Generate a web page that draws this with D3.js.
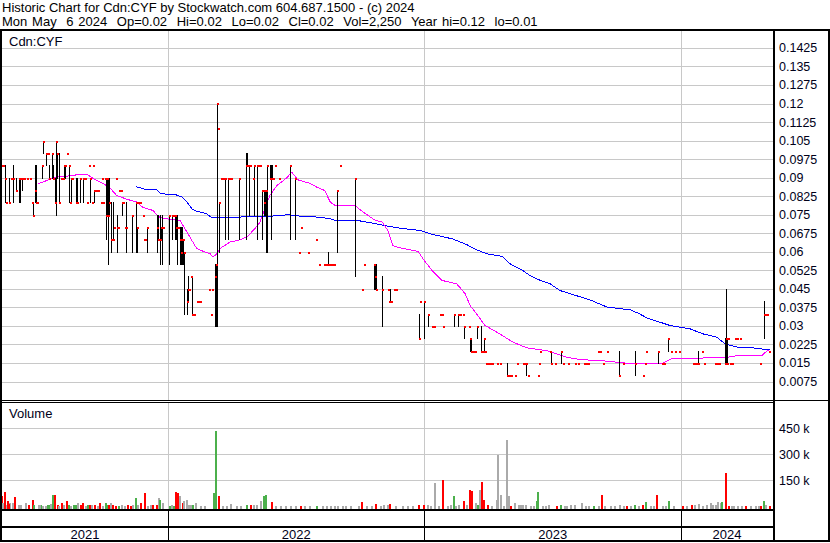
<!DOCTYPE html>
<html><head><meta charset="utf-8">
<script src="https://cdn.jsdelivr.net/npm/d3@7"></script>
<style>
body{margin:0;background:#fff}
svg{display:block}
text{font-family:"Liberation Sans",Arial,sans-serif}
</style>
</head><body>
<svg id="c" width="830" height="543"></svg>
<script>
// ---------------- DATA ----------------
const headerLine1 = "Historic Chart for Cdn:CYF by Stockwatch.com 604.687.1500 - (c) 2024";
const headerLine2 = "Mon May  6 2024  Op=0.02  Hi=0.02  Lo=0.02  Cl=0.02  Vol=2,250  Year hi=0.12  lo=0.01";
const symbolLabel = "Cdn:CYF";
const volumeLabel = "Volume";

const priceTicks = [0.0075,0.015,0.0225,0.03,0.0375,0.045,0.0525,0.06,0.0675,0.075,0.0825,0.09,0.0975,0.105,0.1125,0.12,0.1275,0.135,0.1425];
const priceTickLabels = ["0.0075","0.015","0.0225","0.03","0.0375","0.045","0.0525","0.06","0.0675","0.075","0.0825","0.09","0.0975","0.105","0.1125","0.12","0.1275","0.135","0.1425"];
const volumeTicks = [150000,300000,450000];
const volumeTickLabels = ["150 k","300 k","450 k"];
const yearLabels = ["2021","2022","2023","2024"];
const yearStarts = ["2022-01-01","2023-01-01","2024-01-01"];
const chartStart = "2021-05-07", chartEnd = "2024-05-11";

const priceDates = [
"2021-05-08","2021-05-11","2021-05-14","2021-05-15","2021-05-20","2021-05-23","2021-05-25","2021-05-30","2021-06-03","2021-06-04",
"2021-06-07","2021-06-10","2021-06-14","2021-06-19","2021-06-21","2021-06-23","2021-06-26","2021-06-27","2021-06-29","2021-07-06",
"2021-07-07","2021-07-11","2021-07-14","2021-07-16","2021-07-20","2021-07-21","2021-07-24","2021-07-26","2021-07-27","2021-07-30",
"2021-08-02","2021-08-05","2021-08-06","2021-08-07","2021-08-10","2021-08-13","2021-08-15","2021-08-16","2021-08-17","2021-08-23",
"2021-08-25","2021-08-29","2021-09-02","2021-09-05","2021-09-08","2021-09-11","2021-09-12","2021-09-15","2021-09-16","2021-09-18",
"2021-09-21","2021-09-24","2021-09-28","2021-09-29","2021-10-01","2021-10-03","2021-10-05","2021-10-06","2021-10-08","2021-10-09",
"2021-10-12","2021-10-15","2021-10-16","2021-10-19","2021-10-20","2021-10-22","2021-10-23","2021-10-26","2021-10-28","2021-10-29",
"2021-11-01","2021-11-02","2021-11-11","2021-11-16","2021-11-18","2021-11-19","2021-11-22","2021-11-26","2021-11-28","2021-11-29",
"2021-12-02","2021-12-16","2021-12-18","2021-12-21","2021-12-22","2021-12-24","2021-12-25","2022-01-02","2022-01-07","2022-01-08",
"2022-01-11","2022-01-13","2022-01-14","2022-01-15","2022-01-18","2022-01-20","2022-01-21","2022-01-22","2022-01-24","2022-01-28",
"2022-01-30","2022-01-31","2022-02-03","2022-02-04","2022-02-06","2022-02-07","2022-02-11","2022-02-14","2022-02-16","2022-02-28",
"2022-03-03","2022-03-05","2022-03-09","2022-03-10","2022-03-12","2022-03-13","2022-03-15","2022-03-18","2022-03-21","2022-03-23",
"2022-03-28","2022-03-29","2022-04-01","2022-04-12","2022-04-22","2022-04-24","2022-04-25","2022-04-26","2022-04-28","2022-05-02",
"2022-05-04","2022-05-08","2022-05-09","2022-05-12","2022-05-15","2022-05-16","2022-05-18","2022-05-19","2022-05-21","2022-05-22",
"2022-05-26","2022-05-28","2022-05-29","2022-05-31","2022-06-02","2022-06-08","2022-06-24","2022-07-01","2022-07-07","2022-07-09",
"2022-07-19","2022-07-31","2022-08-04","2022-08-11","2022-08-14","2022-08-17","2022-08-20","2022-08-23","2022-08-25","2022-08-30",
"2022-09-03","2022-09-24","2022-10-04","2022-10-07","2022-10-21","2022-10-23","2022-10-24","2022-11-02","2022-11-10","2022-11-12",
"2022-11-13","2022-11-14","2022-11-19","2022-11-22","2022-12-24","2022-12-26","2023-01-01","2023-01-06","2023-01-12","2023-01-15",
"2023-01-23","2023-01-26","2023-01-27","2023-02-12","2023-02-18","2023-02-21","2023-02-25","2023-02-26","2023-03-05","2023-03-07",
"2023-03-08","2023-03-11","2023-03-14","2023-03-17","2023-03-23","2023-03-25","2023-03-27","2023-03-28","2023-03-30","2023-04-02",
"2023-04-04","2023-04-07","2023-04-14","2023-04-18","2023-04-28","2023-05-01","2023-05-04","2023-05-10","2023-05-13","2023-05-21",
"2023-05-24","2023-05-26","2023-05-28","2023-06-12","2023-06-13","2023-06-15","2023-06-29","2023-06-30","2023-07-06","2023-07-14",
"2023-07-17","2023-07-24","2023-08-03","2023-08-08","2023-08-16","2023-08-19","2023-08-22","2023-09-05","2023-09-08","2023-09-12",
"2023-09-18","2023-10-05","2023-10-11","2023-10-28","2023-11-08","2023-11-11","2023-11-12","2023-11-29","2023-12-05","2023-12-08",
"2023-12-14","2023-12-18","2023-12-24","2023-12-29","2024-01-18","2024-01-21","2024-01-24","2024-01-25","2024-01-31","2024-02-03",
"2024-02-18","2024-02-21","2024-02-24","2024-03-04","2024-03-05","2024-03-07","2024-03-08","2024-03-11","2024-03-14","2024-03-18",
"2024-03-21","2024-03-25","2024-04-23","2024-04-28","2024-04-30","2024-05-02","2024-05-06"];

const priceHigh = [
.105,.095,.095,.08,.09,.09,.095,.09,.09,.09,
.09,.09,.09,.09,.08,.08,.095,.095,.08,.095,
.105,.1,.1,.095,.1,.095,.09,.105,.1,.1,
.09,.09,.095,.095,.1,.095,.08,.09,.09,.09,
.09,.09,.09,.09,.08,.095,.09,.08,.095,.085,
.085,.085,.08,.09,.08,.09,.09,.09,.09,.09,
.08,.08,.07,.09,.075,.07,.085,.085,.08,.08,
.07,.08,.075,.08,.07,.08,.08,.075,.065,.065,
.07,.075,.075,.075,.07,.075,.07,.075,.075,.075,
.075,.075,.075,.07,.07,.07,.07,.065,.06,.045,
.05,.045,.05,.05,.035,.035,.04,.04,.04,.045,
.035,.045,.055,.055,.12,.11,.08,.09,.09,.09,
.09,.09,.09,.09,.1,.1,.095,.095,.095,.09,
.095,.095,.095,.095,.085,.085,.085,.085,.085,.095,
.095,.095,.095,.09,.095,.09,.095,.09,.06,.07,
.06,.065,.055,.055,.055,.06,.055,.055,.055,.085,
.095,.09,.045,.055,.055,.055,.055,.05,.045,.04,
.045,.04,.045,.045,.035,.04,.04,.035,.03,.03,
.035,.035,.03,.035,.035,.035,.035,.03,.03,.025,
.025,.02,.02,.03,.03,.02,.025,.02,.015,.015,
.015,.015,.015,.015,.015,.01,.01,.01,.015,.015,
.015,.015,.01,.01,.015,.02,.02,.02,.015,.02,
.015,.015,.015,.015,.015,.015,.015,.02,.02,.015,
.02,.02,.015,.02,.01,.015,.02,.02,.015,.015,
.025,.02,.02,.02,.015,.015,.015,.02,.02,.015,
.015,.015,.015,.025,.045,.025,.025,.015,.015,.025,
.025,.025,.015,.04,.035,.035,.02];

const priceLow = [
.09,.095,.08,.08,.08,.09,.08,.085,.08,.08,
.085,.09,.09,.09,.08,.075,.08,.08,.08,.09,
.1,.095,.1,.09,.09,.09,.08,.075,.09,.08,
.09,.09,.09,.09,.1,.08,.08,.08,.09,.08,
.08,.08,.08,.09,.08,.095,.08,.08,.095,.08,
.085,.085,.08,.09,.08,.09,.065,.075,.055,.075,
.06,.065,.07,.09,.06,.07,.085,.085,.075,.08,
.07,.06,.06,.06,.06,.08,.08,.075,.065,.065,
.06,.06,.065,.055,.065,.055,.07,.055,.065,.075,
.065,.065,.055,.07,.055,.055,.055,.055,.035,.035,
.04,.045,.05,.035,.035,.035,.04,.04,.04,.045,
.035,.045,.03,.03,.03,.11,.06,.09,.09,.065,
.065,.09,.09,.065,.065,.095,.095,.075,.095,.09,
.075,.065,.095,.095,.065,.085,.075,.075,.06,.06,
.09,.065,.09,.09,.095,.09,.065,.065,.06,.07,
.06,.065,.055,.055,.055,.055,.055,.055,.055,.06,
.095,.05,.045,.055,.045,.045,.045,.03,.045,.04,
.04,.04,.045,.045,.025,.04,.025,.03,.03,.03,
.035,.035,.03,.03,.03,.035,.035,.025,.03,.02,
.02,.02,.02,.025,.02,.02,.02,.02,.015,.015,
.015,.015,.015,.015,.01,.01,.01,.01,.015,.015,
.015,.01,.01,.01,.015,.02,.02,.015,.015,.015,
.015,.015,.015,.015,.015,.015,.015,.02,.02,.015,
.02,.01,.015,.01,.01,.015,.02,.015,.015,.015,
.02,.02,.02,.02,.015,.015,.015,.015,.02,.015,
.015,.015,.015,.015,.015,.015,.025,.015,.015,.025,
.025,.025,.015,.025,.035,.035,.02];

const priceClose = [
.095,.095,.09,.08,.08,.09,.09,.085,.09,.09,
.09,.09,.09,.09,.08,.075,.085,.08,.08,.095,
.105,.1,.1,.09,.1,.09,.08,.105,.1,.08,
.09,.09,.095,.095,.1,.095,.08,.09,.09,.08,
.08,.09,.09,.09,.08,.095,.09,.08,.095,.085,
.085,.085,.08,.09,.08,.09,.075,.09,.075,.08,
.065,.065,.07,.09,.07,.07,.085,.085,.08,.08,
.07,.07,.075,.08,.07,.08,.08,.075,.065,.065,
.07,.07,.065,.065,.07,.07,.07,.075,.075,.075,
.075,.07,.07,.07,.065,.06,.065,.065,.06,.04,
.045,.045,.05,.035,.035,.035,.04,.04,.04,.045,
.035,.045,.05,.055,.12,.11,.08,.09,.09,.09,
.09,.09,.09,.09,.095,.095,.095,.095,.095,.09,
.095,.095,.095,.095,.085,.085,.08,.085,.085,.095,
.09,.09,.09,.09,.095,.09,.095,.09,.06,.07,
.06,.065,.055,.055,.055,.055,.055,.055,.055,.085,
.095,.09,.045,.055,.055,.05,.045,.045,.045,.04,
.04,.04,.045,.045,.025,.04,.04,.035,.03,.03,
.035,.035,.03,.035,.035,.035,.035,.03,.03,.025,
.02,.02,.02,.03,.02,.02,.025,.02,.015,.015,
.015,.015,.015,.015,.01,.01,.01,.01,.015,.015,
.015,.015,.01,.01,.015,.02,.02,.015,.015,.02,
.015,.015,.015,.015,.015,.015,.015,.02,.02,.015,
.02,.01,.015,.015,.01,.015,.02,.02,.015,.015,
.025,.02,.02,.02,.015,.015,.015,.015,.02,.015,
.015,.015,.015,.015,.025,.015,.025,.015,.015,.025,
.025,.025,.015,.035,.035,.035,.02];

// short moving average (magenta)
const maShortDates = ["2021-06-30","2021-07-07","2021-07-20","2021-07-24","2021-08-10","2021-08-29","2021-09-08","2021-09-19","2021-10-01","2021-10-10","2021-10-20","2021-11-04","2021-11-18","2021-11-26","2021-12-11","2021-12-18","2021-12-25","2022-01-18","2022-01-25","2022-02-04","2022-02-11","2022-02-20","2022-03-02","2022-03-06","2022-03-12","2022-03-16","2022-03-30","2022-04-13","2022-04-24","2022-05-05","2022-05-12","2022-05-19","2022-05-26","2022-06-05","2022-06-19","2022-06-26","2022-07-05","2022-07-22","2022-08-01","2022-08-12","2022-08-20","2022-08-27","2022-09-24","2022-10-06","2022-10-23","2022-11-02","2022-11-10","2022-11-17","2022-11-27","2022-12-16","2022-12-23","2022-12-30","2023-01-12","2023-01-26","2023-02-16","2023-02-28","2023-03-07","2023-03-18","2023-03-28","2023-04-18","2023-05-07","2023-05-27","2023-06-24","2023-07-23","2023-08-13","2023-09-08","2023-10-16","2023-12-06","2023-12-19","2024-01-18","2024-02-16","2024-03-04","2024-03-21","2024-04-25","2024-05-03","2024-05-06"];
const maShortValues = [.0876,.0882,.0897,.0902,.0906,.0913,.0913,.0892,.0876,.0860,.0828,.0812,.0801,.0780,.0767,.0743,.0735,.0727,.0694,.0646,.0613,.0602,.0592,.0578,.0593,.0613,.0639,.0648,.0662,.0694,.0720,.0774,.0828,.0868,.0899,.0922,.0891,.0877,.0861,.0848,.0801,.0787,.0787,.0760,.0727,.0720,.0686,.0625,.0616,.0605,.0602,.0571,.0524,.0484,.0470,.0430,.0382,.0342,.0302,.0268,.0234,.0211,.0200,.0173,.0163,.0160,.0149,.0149,.0167,.0167,.0173,.0171,.0180,.0180,.0200,.0203];

// long moving average (blue)
const maLongDates = ["2021-11-16","2021-12-02","2021-12-16","2021-12-21","2021-12-31","2022-01-11","2022-01-21","2022-01-28","2022-02-04","2022-02-11","2022-02-25","2022-03-05","2022-03-30","2022-04-17","2022-05-22","2022-06-10","2022-06-21","2022-07-12","2022-08-05","2022-08-20","2022-08-27","2022-09-27","2022-10-19","2022-11-06","2022-11-23","2022-12-26","2023-01-13","2023-02-10","2023-03-02","2023-03-17","2023-03-31","2023-04-22","2023-05-03","2023-05-21","2023-05-31","2023-06-15","2023-06-29","2023-07-13","2023-07-31","2023-08-24","2023-09-18","2023-10-21","2023-11-03","2023-11-13","2023-12-16","2024-01-14","2024-02-01","2024-02-21","2024-03-04","2024-03-21","2024-04-13","2024-05-06"];
const maLongValues = [.0864,.0851,.0851,.0837,.0832,.0832,.0821,.0801,.0774,.0764,.0754,.0737,.0737,.0741,.0743,.0747,.0750,.0743,.0740,.0733,.0727,.0727,.0716,.0706,.0697,.0686,.0670,.0652,.0629,.0607,.0592,.0581,.0551,.0524,.0504,.0484,.0470,.0443,.0427,.0406,.0376,.0365,.0349,.0333,.0302,.0288,.0268,.0254,.0227,.0214,.0211,.0203];

// volume: u = up day (green), d = down day (red), n = unchanged (grey)
const volDates = ["2021-05-08","2021-05-13","2021-05-15","2021-05-17","2021-05-20","2021-05-24","2021-05-27","2021-06-04","2021-06-11","2021-06-21","2021-06-23","2021-06-30","2021-07-03","2021-07-06","2021-07-10","2021-07-13","2021-07-14","2021-07-20","2021-07-23","2021-07-27","2021-07-28","2021-08-02","2021-08-09","2021-08-12","2021-08-15","2021-08-22","2021-08-25","2021-08-29","2021-09-01","2021-09-05","2021-09-08","2021-09-11","2021-09-18","2021-09-22","2021-09-25","2021-09-29","2021-10-03","2021-10-06","2021-10-08","2021-10-10","2021-10-18","2021-10-22","2021-10-31","2021-11-08","2021-11-15","2021-11-18","2021-11-22","2021-11-28","2021-12-02","2021-12-15","2021-12-18","2021-12-19","2021-12-24","2022-01-02","2022-01-05","2022-01-08","2022-01-11","2022-01-14","2022-01-17","2022-01-21","2022-01-22","2022-01-27","2022-01-30","2022-02-04","2022-02-09","2022-02-16","2022-03-06","2022-03-09","2022-03-13","2022-03-19","2022-03-30","2022-04-08","2022-04-22","2022-04-28","2022-05-06","2022-05-12","2022-05-16","2022-05-19","2022-05-28","2022-06-02","2022-06-10","2022-06-24","2022-07-01","2022-07-08","2022-07-14","2022-07-31","2022-08-08","2022-08-20","2022-08-30","2022-09-10","2022-10-03","2022-10-10","2022-10-23","2022-11-03","2022-11-12","2022-11-20","2022-11-30","2022-12-23","2022-12-30","2023-01-09","2023-01-15","2023-01-20","2023-01-26","2023-02-02","2023-02-10","2023-02-18","2023-02-25","2023-03-01","2023-03-05","2023-03-08","2023-03-14","2023-03-17","2023-03-20","2023-03-23","2023-03-25","2023-03-31","2023-04-06","2023-04-13","2023-04-14","2023-04-18","2023-04-23","2023-04-27","2023-04-30","2023-05-03","2023-05-09","2023-05-14","2023-05-20","2023-05-24","2023-05-31","2023-06-09","2023-06-10","2023-06-17","2023-06-26","2023-07-07","2023-07-13","2023-07-22","2023-08-02","2023-08-12","2023-08-22","2023-08-29","2023-09-05","2023-09-09","2023-09-22","2023-10-05","2023-10-15","2023-10-26","2023-11-07","2023-11-11","2023-11-18","2023-11-27","2023-12-05","2023-12-14","2023-12-21","2024-01-02","2024-01-15","2024-01-20","2024-01-25","2024-01-31","2024-02-06","2024-02-11","2024-02-18","2024-02-21","2024-02-25","2024-02-27","2024-03-04","2024-03-08","2024-03-12","2024-03-21","2024-04-01","2024-04-15","2024-04-23","2024-04-27","2024-04-30","2024-05-06",
"2021-05-10","2021-05-18","2021-06-01","2021-06-16","2021-07-01","2021-07-17","2021-08-04","2021-08-19","2021-09-14","2021-10-13","2021-10-26","2021-11-04","2021-11-11","2021-12-07","2021-12-10",
"2022-02-01","2022-02-22","2022-03-24","2022-04-14","2022-05-02","2022-06-16","2022-07-21","2022-08-14","2022-08-25","2022-09-05","2022-09-17","2022-09-28","2022-10-17","2022-10-30","2022-11-08","2022-12-07","2022-12-14",
"2023-01-05","2023-02-07","2023-02-14","2023-05-17","2023-06-05","2023-06-21","2023-07-18","2023-07-27","2023-08-17","2023-09-14","2023-09-28","2023-10-10","2023-10-20","2023-11-01","2023-11-22","2023-12-10",
"2024-01-08","2024-02-14","2024-03-15","2024-03-27","2024-04-08","2024-04-19"];
const volValues = [57000,85000,9000,28000,18000,18000,51000,9000,18000,37000,9000,9000,9000,3000,3000,9000,9000,64000,64000,9000,3000,18000,28000,9000,3000,5000,18000,5000,18000,3000,5000,5000,9000,3000,18000,3000,18000,9000,5000,18000,3000,3000,3000,3000,47000,5000,18000,78000,3000,5000,47000,37000,18000,3000,5000,3000,85000,76000,57000,18000,28000,37000,9000,9000,18000,3000,76000,437000,62000,3000,14000,3000,9000,5000,5000,28000,57000,66000,22000,3000,3000,3000,3000,3000,3000,3000,3000,3000,3000,3000,22000,3000,14000,9000,14000,3000,3000,9000,5000,3000,137000,3000,153000,3000,60000,5000,32000,9000,95000,90000,18000,9000,95000,140000,37000,5000,3000,37000,297000,66000,3000,384000,57000,3000,18000,5000,9000,9000,3000,28000,85000,3000,9000,3000,9000,3000,5000,18000,3000,3000,3000,66000,3000,5000,3000,5000,5000,23000,3000,66000,3000,32000,3000,3000,5000,9000,14000,3000,5000,18000,5000,23000,18000,22000,190000,3000,3000,3000,3000,3000,3000,32000,5000,2250,
20000,12000,5000,9000,5000,12000,5000,9000,5000,9000,5000,5000,9000,5000,9000,
5000,3000,3000,3000,5000,3000,3000,3000,3000,3000,3000,3000,3000,3000,5000,3000,3000,
5000,5000,3000,9000,3000,3000,3000,5000,3000,3000,3000,3000,3000,3000,3000,3000,
3000,9000,3000,3000,3000,3000];
const volDir = ["d","d","n","d","n","n","d","n","n","d","u","n","u","n","n","u","u","u","d","d","n","d","d","u","n","u","n","d","d","n","u","d","d","n","d","n","u","u","d","n","d","u","n","d","u","n","d","d","n","d","n","u","n","u","n","u","d","d","n","d","n","n","n","u","n","n","u","u","d","n","n","n","u","d","n","n","u","u","d","n","n","n","n","d","n","u","n","n","n","n","d","n","d","n","d","n","n","d","d","n","n","n","d","n","u","n","d","n","d","d","n","u","n","d","d","d","n","n","n","n","n","n","n","d","n","n","n","n","n","u","u","n","n","d","u","n","n","n","n","u","n","d","n","n","d","u","d","u","n","d","n","u","n","d","d","n","n","n","n","n","n","n","n","u","d","d","n","n","d","n","d","u","n","d",
"n","d","n","d","n","n","n","u","n","d","n","d","n","n","d",
"n","n","n","n","n","n","n","n","n","n","n","n","n","n","n","n","n",
"n","n","n","n","n","n","n","n","n","n","n","n","n","n","n","n",
"n","n","n","n","n","n"];

// ---------------- DRAW ----------------
const svg = d3.select("#c");
const W = 830, H = 543;
const L = 2, R = 773;          // plot area x-range
const PT = 31, PB = 400;       // price panel
const VT = 403, VB = 509;      // volume panel
const fontFam = '"Liberation Sans", Arial, sans-serif';
const textCol = "#000018";

const parse = d3.utcParse("%Y-%m-%d");
const x = d3.scaleUtc().domain([parse(chartStart), parse(chartEnd)]).range([0, R]);
const yP = d3.scaleLinear().domain([0.0075, 0.1425]).range([381.5, 47.9]);
const yV = d3.scaleLinear().domain([0, 450000]).range([506.3, 428.3]);

svg.append("rect").attr("width", W).attr("height", H).attr("fill", "#fff");

// price grid + right axis labels
const pAxis = d3.axisRight(yP).tickValues(priceTicks).tickSize(-(R - L)).tickPadding(6)
  .tickFormat((d, i) => priceTickLabels[i]);
const gpa = svg.append("g").attr("transform", `translate(${R},0)`).call(pAxis);
gpa.select(".domain").remove();
gpa.selectAll(".tick line").attr("stroke", "#c8c8c8").attr("shape-rendering", "crispEdges");
gpa.attr("font-family", fontFam).attr("font-size", 12.5);
gpa.selectAll(".tick text").attr("fill", textCol);

// volume grid + labels
const vAxis = d3.axisRight(yV).tickValues(volumeTicks).tickSize(-(R - L)).tickPadding(6)
  .tickFormat((d, i) => volumeTickLabels[i]);
const gva = svg.append("g").attr("transform", `translate(${R},0)`).call(vAxis);
gva.select(".domain").remove();
gva.selectAll(".tick line").attr("stroke", "#c8c8c8").attr("shape-rendering", "crispEdges");
gva.attr("font-family", fontFam).attr("font-size", 12.5);
gva.selectAll(".tick text").attr("fill", textCol);

// vertical year gridlines
const yearDates = yearStarts.map(parse);
const xGridP = d3.axisBottom(x).tickValues(yearDates).tickSize(-(PB - PT)).tickFormat("");
const gxp = svg.append("g").attr("transform", `translate(0,${PB})`).call(xGridP);
gxp.select(".domain").remove();
gxp.selectAll(".tick line").attr("stroke", "#c8c8c8").attr("shape-rendering", "crispEdges");
const xGridV = d3.axisBottom(x).tickValues(yearDates).tickSize(-(VB - VT)).tickFormat("");
const gxv = svg.append("g").attr("transform", `translate(0,${VB})`).call(xGridV);
gxv.select(".domain").remove();
gxv.selectAll(".tick line").attr("stroke", "#c8c8c8").attr("shape-rendering", "crispEdges");
// black separators in the date row
const xSep = d3.axisBottom(x).tickValues(yearDates).tickSize(32).tickFormat("");
const gxs = svg.append("g").attr("transform", `translate(0,${VB + 1})`).call(xSep);
gxs.select(".domain").remove();
gxs.selectAll(".tick line").attr("stroke", "#000").attr("shape-rendering", "crispEdges");

// moving averages
const maShort = maShortDates.map((d, i) => ({ date: parse(d), v: maShortValues[i] }));
const maLong = maLongDates.map((d, i) => ({ date: parse(d), v: maLongValues[i] }));
const line = d3.line().x(d => x(d.date)).y(d => yP(d.v));
svg.append("path").datum(maLong).attr("d", line).attr("fill", "none")
  .attr("stroke", "#0000ff").attr("stroke-width", 1).attr("shape-rendering", "crispEdges");
svg.append("path").datum(maShort).attr("d", line).attr("fill", "none")
  .attr("stroke", "#ff00ff").attr("stroke-width", 1).attr("shape-rendering", "crispEdges");

// price bars
const bars = priceDates.map((d, i) => ({ date: parse(d), h: priceHigh[i], l: priceLow[i], c: priceClose[i] }));
const gb = svg.append("g").attr("shape-rendering", "crispEdges");
gb.selectAll("line").data(bars.filter(b => b.h > b.l)).join("line")
  .attr("x1", b => Math.round(x(b.date)) + 0.5).attr("x2", b => Math.round(x(b.date)) + 0.5)
  .attr("y1", b => Math.round(yP(b.h))).attr("y2", b => Math.round(yP(b.l)) + 1)
  .attr("stroke", "#000").attr("stroke-width", 1);
gb.selectAll("rect").data(bars).join("rect")
  .attr("x", b => Math.round(x(b.date))).attr("y", b => Math.round(yP(b.c)) - 0.5)
  .attr("width", 2).attr("height", 2).attr("fill", "#ff0000");

// volume bars
const volColor = { u: "#4cb04c", d: "#ff0000", n: "#aaaaaa" };
const vols = volDates.map((d, i) => ({ date: parse(d), v: volValues[i], dir: volDir[i] }));
svg.append("g").attr("shape-rendering", "crispEdges").selectAll("rect").data(vols).join("rect")
  .attr("x", d => Math.round(x(d.date))).attr("width", 2)
  .attr("y", d => Math.round(yV(d.v))).attr("height", d => VB - Math.round(yV(d.v)))
  .attr("fill", d => volColor[d.dir]);

// frame lines
const frame = svg.append("g").attr("fill", "#000").attr("shape-rendering", "crispEdges");
frame.append("rect").attr("x", 0).attr("y", 29).attr("width", W).attr("height", 2);      // under header
frame.append("rect").attr("x", 0).attr("y", 29).attr("width", 2).attr("height", 513);    // left
frame.append("rect").attr("x", R).attr("y", 29).attr("width", 2).attr("height", 513);    // axis separator
frame.append("rect").attr("x", W - 2).attr("y", 29).attr("width", 2).attr("height", 513);// right
frame.append("rect").attr("x", 0).attr("y", PB).attr("width", W).attr("height", 1);     // price bottom
frame.append("rect").attr("x", 0).attr("y", PB + 2).attr("width", R).attr("height", 1); // volume top
frame.append("rect").attr("x", 0).attr("y", VB).attr("width", R).attr("height", 2);     // volume bottom
frame.append("rect").attr("x", 0).attr("y", 526).attr("width", R).attr("height", 2);    // date row
frame.append("rect").attr("x", 0).attr("y", 540).attr("width", W).attr("height", 2);    // bottom

// texts
const T = (s, tx, ty, anchor) => svg.append("text").attr("x", tx).attr("y", ty)
  .attr("font-family", fontFam).attr("font-size", 13).attr("fill", "#000")
  .attr("xml:space", "preserve")
  .attr("text-anchor", anchor || "start").style("white-space", "pre").text(s);
T(headerLine1, 2, 12);
T(headerLine2, 2, 26).style("word-spacing", "1.2px");
T(symbolLabel, 9, 46).attr("fill", textCol);
T(volumeLabel, 9, 418).attr("fill", textCol);

const bounds = [L, ...yearDates.map(d => x(d)), R];
yearLabels.forEach((lab, i) => {
  T(lab, (bounds[i] + bounds[i + 1]) / 2, 539, "middle").attr("fill", textCol);
});
</script>
</body></html>
